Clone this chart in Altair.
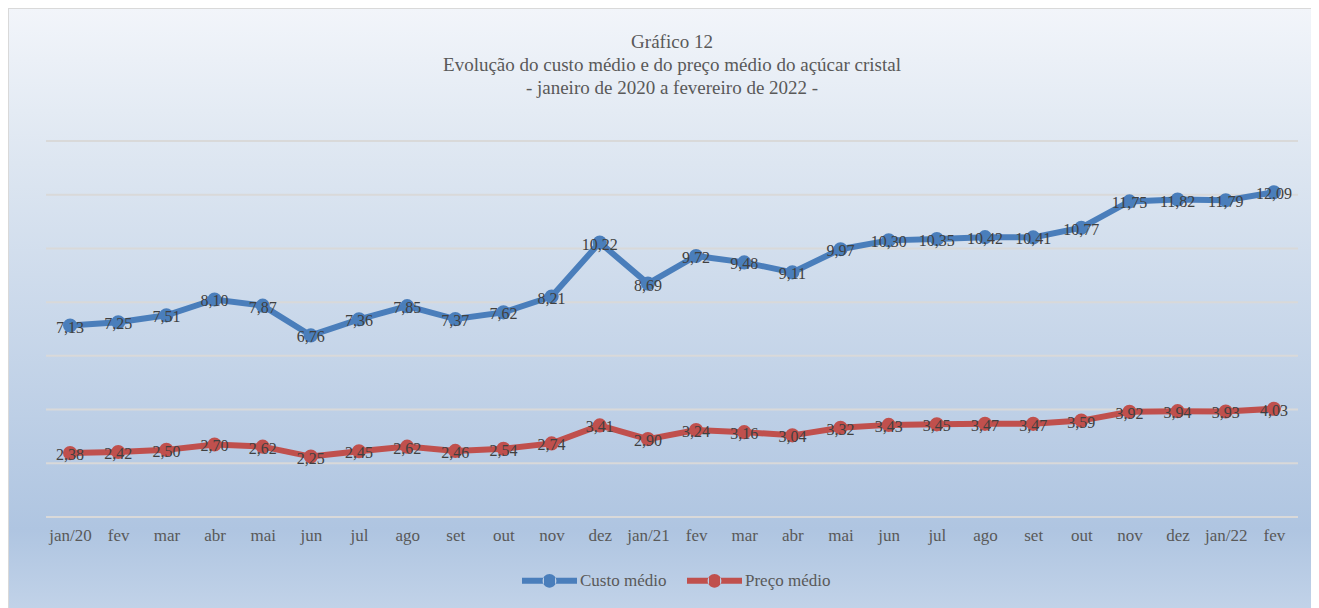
import json
import altair as alt
import pandas as pd

months = ["jan/20", "fev", "mar", "abr", "mai", "jun", "jul", "ago", "set", "out", "nov", "dez",
          "jan/21", "fev", "mar", "abr", "mai", "jun", "jul", "ago", "set", "out", "nov", "dez",
          "jan/22", "fev"]
custo = [7.13, 7.25, 7.51, 8.10, 7.87, 6.76, 7.36, 7.85, 7.37, 7.62, 8.21, 10.22,
         8.69, 9.72, 9.48, 9.11, 9.97, 10.30, 10.35, 10.42, 10.41, 10.77, 11.75, 11.82,
         11.79, 12.09]
preco = [2.38, 2.42, 2.50, 2.70, 2.62, 2.25, 2.45, 2.62, 2.46, 2.54, 2.74, 3.41,
         2.90, 3.24, 3.16, 3.04, 3.32, 3.43, 3.45, 3.47, 3.47, 3.59, 3.92, 3.94,
         3.93, 4.03]
series = ["Custo médio", "Preço médio"]
colors = ["#4a7ebb", "#c0504d"]
grid_values = [0, 2, 4, 6, 8, 10, 12, 14]

rows = []
for name, vals in zip(series, [custo, preco]):
    for i, v in enumerate(vals):
        rows.append({"i": i, "serie": name, "valor": v,
                     "rotulo": f"{v:.2f}".replace(".", ",")})
df = pd.DataFrame(rows)

W, H = 1252, 376
PAD = {"left": 38, "top": 133, "right": 13, "bottom": 92}
FONT = "Liberation Serif"

label_expr = json.dumps(months) + "[datum.value]"

xenc = alt.X("i:O", title=None,
             axis=alt.Axis(labelExpr=label_expr, labelAngle=0, ticks=False, domain=False,
                           grid=False, labelFont=FONT, labelFontSize=17, labelColor="#595959",
                           labelPadding=10, zindex=1))
yscale = alt.Scale(domain=[0, 14], nice=False)
cscale = alt.Scale(domain=series, range=colors)

legend_path = ("M-1,-0.11H-0.2V0.11H-1Z M0.2,-0.11H1V0.11H0.2Z "
               "M-0.25,0A0.25,0.25 0 1,0 0.25,0A0.25,0.25 0 1,0 -0.25,0Z")

bg = alt.Chart(pd.DataFrame({"a": [0]})).mark_rect(
    color=alt.LinearGradient(
        gradient="linear", x1=0, x2=0, y1=0, y2=1,
        stops=[alt.GradientStop(color="#f2f5fa", offset=0),
               alt.GradientStop(color="#dde6f1", offset=0.25),
               alt.GradientStop(color="#afc5e1", offset=0.84),
               alt.GradientStop(color="#c6d6ea", offset=1)]),
    stroke="#d9d9d9", strokeWidth=2
).encode(x=alt.value(-PAD["left"]), x2=alt.value(W + PAD["right"] + 20),
         y=alt.value(-PAD["top"]), y2=alt.value(H + PAD["bottom"] + 20))

grid = alt.Chart(pd.DataFrame({"g": grid_values})).mark_rule(
    color="#d9d9d9", strokeWidth=2
).encode(y=alt.Y("g:Q", scale=yscale, axis=None))

base = alt.Chart(df).encode(
    x=xenc,
    y=alt.Y("valor:Q", scale=yscale, axis=None),
)

lines = base.mark_line(strokeWidth=6).encode(
    color=alt.Color("serie:N", scale=cscale, legend=None))

points = base.mark_point(filled=True, size=200, opacity=1).encode(
    color=alt.Color("serie:N", scale=cscale,
                    legend=alt.Legend(title=None, orient="none", direction="horizontal",
                                      legendX=476, legendY=412,
                                      symbolType=legend_path, symbolSize=3025,
                                      symbolStrokeWidth=0, symbolOpacity=1,
                                      labelFont=FONT, labelFontSize=17,
                                      labelColor="#595959", labelOffset=3,
                                      columnPadding=20)))

labels = base.mark_text(font=FONT, fontSize=16, color="#404040",
                        align="center", baseline="middle", dy=2).encode(text="rotulo:N")

chart = alt.layer(bg, grid, lines, points, labels).resolve_legend(
    color="independent"
).properties(
    width=W, height=H,
    autosize=alt.AutoSizeParams(type="none"),
    padding=PAD,
    title=alt.TitleParams(
        text=["Gráfico 12",
              "Evolução do custo médio e do preço médio do açúcar cristal",
              "- janeiro de 2020 a fevereiro de 2022 -"],
        font=FONT, fontSize=19, fontWeight="normal", color="#595959",
        anchor="middle", lineHeight=23, offset=-91, zindex=1),
).configure_view(stroke=None).configure_legend(labelFont=FONT, labelFontSize=17,
                                               labelColor="#595959")

chart.save("out.html", embed_options={"renderer": "svg", "actions": False})
